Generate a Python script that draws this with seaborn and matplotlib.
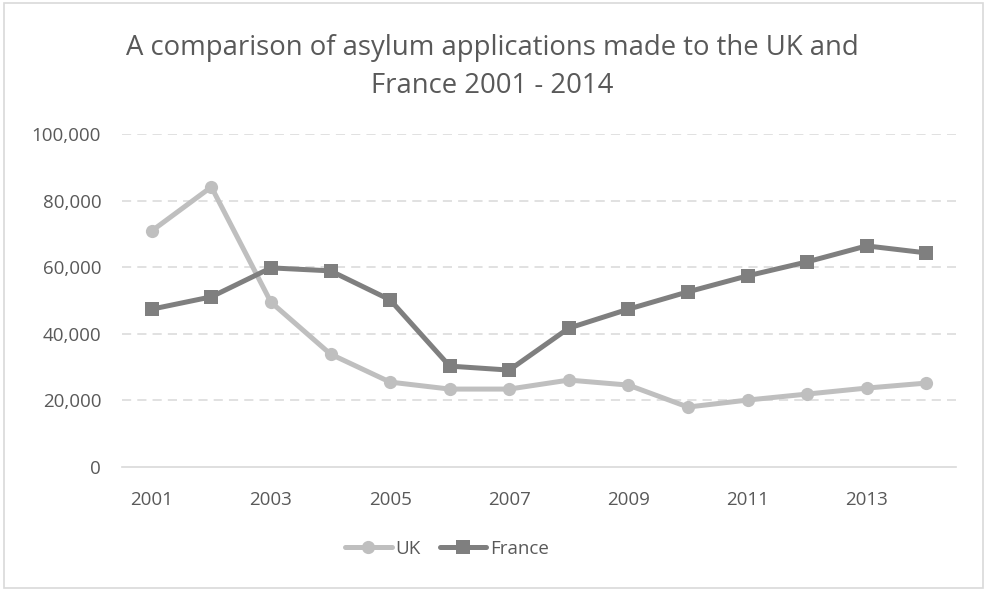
import matplotlib
matplotlib.use("Agg")
import matplotlib.pyplot as plt
from matplotlib.patches import Rectangle
import seaborn as sns
import pandas as pd

years = [2001, 2002, 2003, 2004, 2005, 2006, 2007, 2008, 2009, 2010, 2011, 2012, 2013, 2014]
uk = [70900, 84100, 49500, 33900, 25500, 23400, 23400, 26100, 24600, 18000, 20100, 21900, 23700, 25200]
france = [47400, 51100, 59800, 58900, 50200, 30300, 29100, 41700, 47400, 52600, 57400, 61600, 66400, 64300]
series_names = ["UK", "France"]
x_tick_labels = [2001, 2003, 2005, 2007, 2009, 2011, 2013]
y_ticks = [0, 20000, 40000, 60000, 80000, 100000]
title = "A comparison of asylum applications made to the UK and\nFrance 2001 - 2014"

df = pd.DataFrame({
    "Year": years * 2,
    "Applications": uk + france,
    "Country": [series_names[0]] * len(years) + [series_names[1]] * len(years),
})

sns.set_theme(style="white")
plt.rcParams["font.family"] = ["Open Sans", "DejaVu Sans"]

text_color = "#595959"
grid_color = "#D9D9D9"
palette = {"UK": "#BFBFBF", "France": "#7F7F7F"}
markers = {"UK": "o", "France": "s"}

fig = plt.figure(figsize=(9.85, 5.9), dpi=100)
ax = fig.add_axes([122 / 985, 1 - 467 / 590, (956 - 122) / 985, (467 - 134) / 590])

sns.lineplot(data=df, x="Year", y="Applications", hue="Country", style="Country",
             palette=palette, markers=markers, dashes=False, linewidth=3.6,
             markersize=9.5, markeredgewidth=0, ax=ax, legend=True)

ax.set_xlim(years[0] - 0.5, years[-1] + 0.5)
ax.set_ylim(0, 100000)
ax.set_xticks(x_tick_labels)
ax.set_xticklabels([str(v) for v in x_tick_labels])
ax.set_yticks(y_ticks)
ax.set_yticklabels([f"{v:,}" for v in y_ticks])
ax.tick_params(axis="both", length=0, labelsize=13.5, colors=text_color)
ax.tick_params(axis="x", pad=17)
ax.tick_params(axis="y", pad=15)
ax.set_xlabel("")
ax.set_ylabel("")

for s in ["top", "right", "left"]:
    ax.spines[s].set_visible(False)
ax.spines["bottom"].set_color(grid_color)
ax.spines["bottom"].set_linewidth(1.2)

for v in y_ticks[1:]:
    ax.axhline(v, color=grid_color, linestyle=(0, (6, 4)), linewidth=1.1, zorder=0)

handles, labels = ax.get_legend_handles_labels()
leg = ax.legend(handles, labels, loc="center", bbox_to_anchor=((447 - 122) / 834, -(549 - 467) / 333),
                ncol=2, frameon=False, fontsize=13.5, handlelength=2.5, handletextpad=0.2,
                columnspacing=1.0, borderaxespad=0)
for t in leg.get_texts():
    t.set_color(text_color)

fig.text(0.5, 1 - 67 / 590, title, ha="center", va="center", fontsize=19.8,
         color=text_color, linespacing=1.5)

fig.patches.append(Rectangle((4 / 985, 2 / 590), 979 / 985, 585 / 590, transform=fig.transFigure,
                             fill=False, edgecolor="#D9D9D9", linewidth=1.2))

fig.savefig("out.png", dpi=100)
